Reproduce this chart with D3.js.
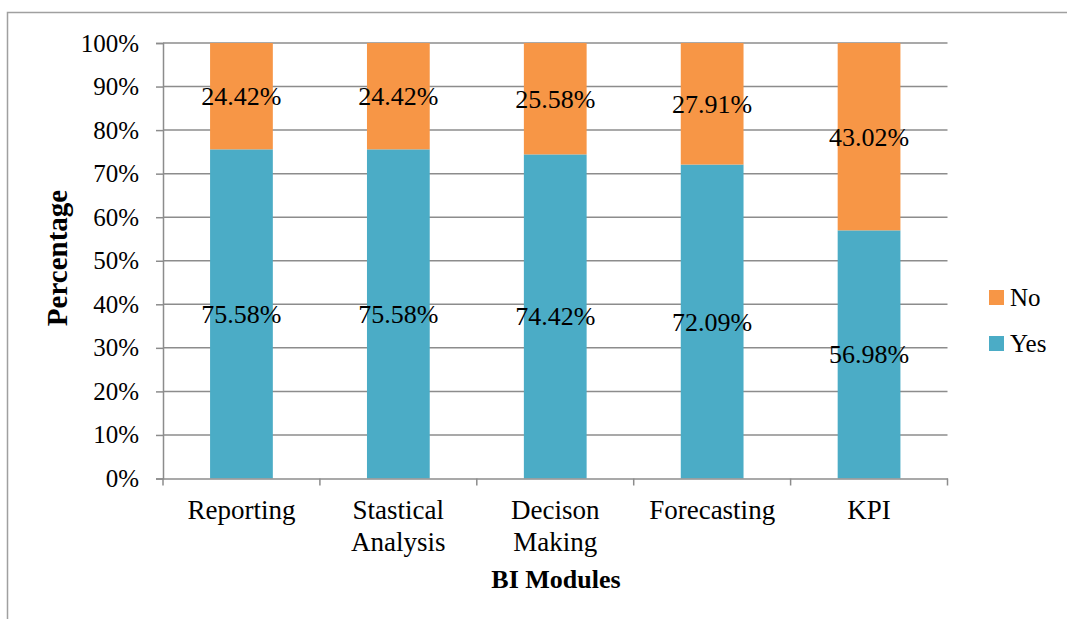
<!DOCTYPE html>
<html>
<head>
<meta charset="utf-8">
<script src="https://cdn.jsdelivr.net/npm/d3@7"></script>
<style>
  html, body { margin: 0; padding: 0; background: #fff; }
  svg { display: block; font-family: "Liberation Serif", "Times New Roman", serif; }
</style>
</head>
<body>
<svg id="chart" width="1067" height="619"></svg>
<script>
// BI module adoption: share of respondents answering Yes / No
const categories = [["Reporting"], ["Stastical", "Analysis"], ["Decison", "Making"], ["Forecasting"], ["KPI"]];
const yesValues = [75.58, 75.58, 74.42, 72.09, 56.98];
const noValues  = [24.42, 24.42, 25.58, 27.91, 43.02];
const yTicks = [0, 10, 20, 30, 40, 50, 60, 70, 80, 90, 100];
const seriesNames = ["Yes", "No"];
const seriesColors = ["#4BACC6", "#F79646"];

const svg = d3.select("#chart");
const plot = { left: 163, right: 947.5, top: 43, bottom: 478.5 };

// outer frame
svg.append("path")
  .attr("d", "M7.5,619 V12.5 H1067")
  .attr("fill", "none").attr("stroke", "#a0a0a0").attr("stroke-width", 1.5);

const keys = categories.map(c => c.join(" "));
const x = d3.scaleBand().domain(keys).range([plot.left, plot.right]).paddingInner(0).paddingOuter(0);
const y = d3.scaleLinear().domain([0, 100]).range([plot.bottom, plot.top]);

// gridlines
svg.append("g").selectAll("line").data(yTicks.filter(t => t > 0)).join("line")
  .attr("x1", plot.left).attr("x2", plot.right)
  .attr("y1", d => y(d)).attr("y2", d => y(d))
  .attr("stroke", "#8c8c8c").attr("stroke-width", 1.5);

// stacked bars
const rows = keys.map((k, i) => ({ key: k, Yes: yesValues[i], No: noValues[i] }));
const stacked = d3.stack().keys(seriesNames)(rows);
const barW = x.bandwidth() * 0.4;

stacked.forEach((layer, si) => {
  svg.append("g").selectAll("rect").data(layer).join("rect")
    .attr("x", d => x(d.data.key) + (x.bandwidth() - barW) / 2)
    .attr("width", barW)
    .attr("y", d => y(d[1]))
    .attr("height", d => y(d[0]) - y(d[1]))
    .attr("fill", seriesColors[si]);
});

// y axis
const yAxis = d3.axisLeft(y).tickValues(yTicks).tickFormat(d => d + "%").tickSize(7).tickPadding(17);
const gy = svg.append("g").attr("transform", `translate(${plot.left},0)`).call(yAxis);
gy.select(".domain").attr("stroke", "#8c8c8c").attr("stroke-width", 1.5);
gy.selectAll(".tick line").attr("stroke", "#8c8c8c").attr("stroke-width", 1.5);
gy.selectAll(".tick text").attr("font-size", 25).attr("font-family", "Liberation Serif").attr("fill", "#000");

// x axis
const xAxis = d3.axisBottom(x).tickSize(0).tickFormat("");
const gx = svg.append("g").attr("transform", `translate(0,${plot.bottom})`).call(xAxis);
gx.select(".domain").attr("stroke", "#8c8c8c").attr("stroke-width", 1.5);
gx.selectAll(".tick").remove();
// category separator ticks
const sepPositions = keys.map(k => x(k)).concat([plot.right]);
svg.append("g").selectAll("line").data(sepPositions).join("line")
  .attr("x1", d => d).attr("x2", d => d)
  .attr("y1", plot.bottom).attr("y2", plot.bottom + 7)
  .attr("stroke", "#8c8c8c").attr("stroke-width", 1.5);

// category labels
const catG = svg.append("g");
categories.forEach((lines, i) => {
  const t = catG.append("text")
    .attr("x", x(keys[i]) + x.bandwidth() / 2)
    .attr("y", 519)
    .attr("text-anchor", "middle")
    .attr("font-size", 27);
  lines.forEach((ln, j) => {
    t.append("tspan").attr("x", x(keys[i]) + x.bandwidth() / 2).attr("dy", j === 0 ? 0 : 32).text(ln);
  });
});

// value labels, centred in each segment
stacked.forEach(layer => {
  svg.append("g").selectAll("text").data(layer).join("text")
    .attr("x", d => x(d.data.key) + x.bandwidth() / 2)
    .attr("y", d => (y(d[0]) + y(d[1])) / 2 + 9)
    .attr("text-anchor", "middle")
    .attr("font-size", 26)
    .text(d => (d[1] - d[0]).toFixed(2) + "%");
});

// axis titles
svg.append("text")
  .attr("x", 556).attr("y", 588)
  .attr("text-anchor", "middle")
  .attr("font-size", 26).attr("font-weight", "bold")
  .text("BI Modules");
svg.append("text")
  .attr("transform", "translate(67,258) rotate(-90)")
  .attr("text-anchor", "middle")
  .attr("font-size", 29).attr("font-weight", "bold")
  .text("Percentage");

// legend (No above Yes)
const legendItems = [{ name: "No", color: seriesColors[1] }, { name: "Yes", color: seriesColors[0] }];
const lg = svg.append("g").attr("transform", "translate(989,290)");
legendItems.forEach((it, i) => {
  lg.append("rect").attr("x", 0).attr("y", i * 46).attr("width", 15).attr("height", 15).attr("fill", it.color);
  lg.append("text").attr("x", 21).attr("y", i * 46 + 16).attr("font-size", 25).text(it.name);
});
</script>
</body>
</html>
